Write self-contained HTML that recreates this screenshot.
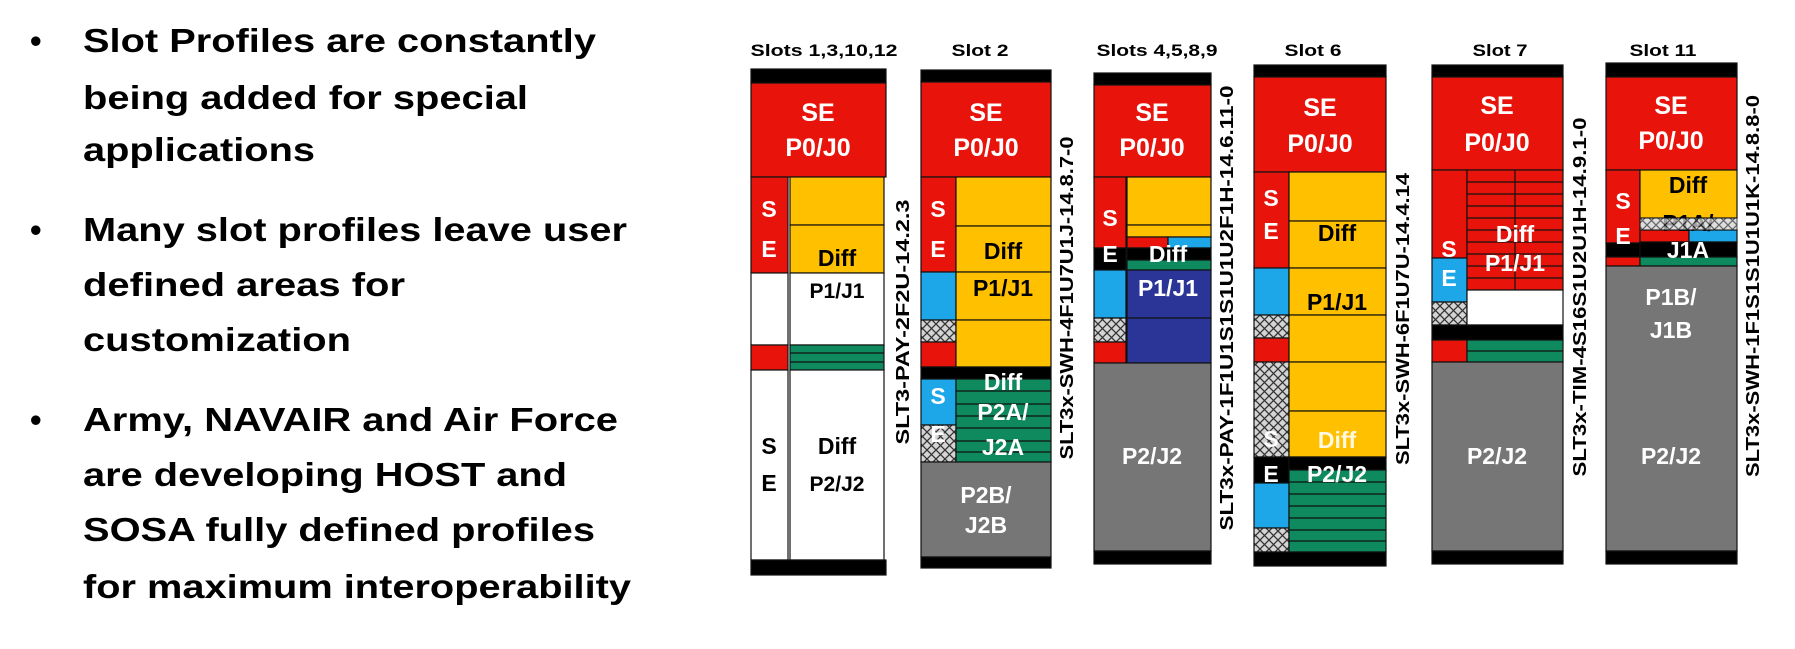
<!DOCTYPE html>
<html><head><meta charset="utf-8"><style>
html,body{margin:0;padding:0;background:#fff;}
svg{display:block;}
text{font-family:"Liberation Sans",Arial,sans-serif;font-weight:bold;}
</style></head><body>
<svg width="1795" height="649" viewBox="0 0 1795 649" xmlns="http://www.w3.org/2000/svg">
<defs>
<pattern id="h" width="9" height="9" patternUnits="userSpaceOnUse">
<rect width="9" height="9" fill="#d4d4d4"/>
<path d="M0 0L9 9M9 0L0 9" stroke="#333" stroke-width="1.3"/>
</pattern>
</defs>
<rect width="1795" height="649" fill="#fff"/>
<!-- left bullets -->
<g font-size="33" fill="#000">
<text x="30" y="52">•</text><text x="30" y="241">•</text><text x="30" y="431">•</text>
<text x="83" y="52" textLength="513" lengthAdjust="spacingAndGlyphs">Slot Profiles are constantly</text>
<text x="83" y="109" textLength="445" lengthAdjust="spacingAndGlyphs">being added for special</text>
<text x="83" y="161" textLength="232" lengthAdjust="spacingAndGlyphs">applications</text>
<text x="83" y="241" textLength="544" lengthAdjust="spacingAndGlyphs">Many slot profiles leave user</text>
<text x="83" y="296" textLength="322" lengthAdjust="spacingAndGlyphs">defined areas for</text>
<text x="83" y="351" textLength="268" lengthAdjust="spacingAndGlyphs">customization</text>
<text x="83" y="431" textLength="535" lengthAdjust="spacingAndGlyphs">Army, NAVAIR and Air Force</text>
<text x="83" y="486" textLength="484" lengthAdjust="spacingAndGlyphs">are developing HOST and</text>
<text x="83" y="541" textLength="512" lengthAdjust="spacingAndGlyphs">SOSA fully defined profiles</text>
<text x="83" y="598" textLength="548" lengthAdjust="spacingAndGlyphs">for maximum interoperability</text>
</g>
<!-- titles -->
<g font-size="17" fill="#000" text-anchor="middle">
<text x="824" y="56" textLength="147" lengthAdjust="spacingAndGlyphs">Slots 1,3,10,12</text>
<text x="980" y="56" textLength="57" lengthAdjust="spacingAndGlyphs">Slot 2</text>
<text x="1157" y="56" textLength="121" lengthAdjust="spacingAndGlyphs">Slots 4,5,8,9</text>
<text x="1313" y="56" textLength="57" lengthAdjust="spacingAndGlyphs">Slot 6</text>
<text x="1500" y="56" textLength="55" lengthAdjust="spacingAndGlyphs">Slot 7</text>
<text x="1663" y="56" textLength="67" lengthAdjust="spacingAndGlyphs">Slot 11</text>
</g>
<g stroke="#111" stroke-width="1.2">
<!-- COL1 -->
<rect x="751" y="69" width="135" height="14" fill="#000"/>
<rect x="751" y="83" width="135" height="94" fill="#e8140c"/>
<rect x="751" y="177" width="37" height="96" fill="#e8140c"/>
<rect x="751" y="273" width="37" height="72" fill="#fff"/>
<rect x="751" y="345" width="37" height="25" fill="#e8140c"/>
<rect x="751" y="370" width="37" height="190" fill="#fff"/>
<rect x="790" y="177" width="94" height="48" fill="#ffc000"/>
<rect x="790" y="225" width="94" height="48" fill="#ffc000"/>
<rect x="790" y="273" width="94" height="72" fill="#fff"/>
<rect x="790" y="345" width="94" height="25" fill="#0f8a5f"/>
<line x1="790" y1="353" x2="884" y2="353"/><line x1="790" y1="362" x2="884" y2="362"/>
<rect x="790" y="370" width="94" height="190" fill="#fff"/>
<rect x="751" y="560" width="135" height="15" fill="#000"/>
<!-- COL2 -->
<rect x="921" y="70" width="130" height="12" fill="#000"/>
<rect x="921" y="82" width="130" height="95" fill="#e8140c"/>
<rect x="921" y="177" width="35" height="95" fill="#e8140c"/>
<rect x="921" y="272" width="35" height="48" fill="#1ea7e8"/>
<rect x="921" y="320" width="35" height="22" fill="url(#h)"/>
<rect x="921" y="342" width="35" height="25" fill="#e8140c"/>
<rect x="956" y="177" width="95" height="49" fill="#ffc000"/>
<rect x="956" y="226" width="95" height="46" fill="#ffc000"/>
<rect x="956" y="272" width="95" height="48" fill="#ffc000"/>
<rect x="956" y="320" width="95" height="47" fill="#ffc000"/>
<rect x="921" y="367" width="130" height="12" fill="#000"/>
<rect x="921" y="379" width="35" height="46" fill="#1ea7e8"/>
<rect x="921" y="425" width="35" height="37" fill="url(#h)"/>
<rect x="956" y="379" width="95" height="83" fill="#0f8a5f"/>
<line x1="956" y1="391" x2="1051" y2="391"/><line x1="956" y1="404" x2="1051" y2="404"/><line x1="956" y1="416" x2="1051" y2="416"/><line x1="956" y1="428" x2="1051" y2="428"/><line x1="956" y1="441" x2="1051" y2="441"/><line x1="956" y1="452" x2="1051" y2="452"/>
<rect x="921" y="462" width="130" height="95" fill="#767676"/>
<rect x="921" y="557" width="130" height="11" fill="#000"/>
<!-- COL3 -->
<rect x="1094" y="73" width="117" height="12" fill="#000"/>
<rect x="1094" y="85" width="117" height="92" fill="#e8140c"/>
<rect x="1094" y="177" width="32" height="71" fill="#e8140c"/>
<rect x="1094" y="248" width="32" height="22" fill="#000"/>
<rect x="1094" y="270" width="32" height="48" fill="#1ea7e8"/>
<rect x="1094" y="318" width="32" height="24" fill="url(#h)"/>
<rect x="1094" y="342" width="32" height="21" fill="#e8140c"/>
<rect x="1127" y="177" width="84" height="48" fill="#ffc000"/>
<rect x="1127" y="225" width="84" height="12" fill="#ffc000"/>
<rect x="1127" y="237" width="41" height="11" fill="#e8140c"/>
<rect x="1168" y="237" width="43" height="11" fill="#1ea7e8"/>
<rect x="1127" y="248" width="84" height="12" fill="#000"/>
<rect x="1127" y="260" width="84" height="10" fill="#0f8a5f"/>
<rect x="1127" y="270" width="84" height="48" fill="#2a3597"/>
<rect x="1127" y="318" width="84" height="45" fill="#2a3597"/>
<rect x="1094" y="363" width="117" height="188" fill="#767676"/>
<rect x="1094" y="551" width="117" height="13" fill="#000"/>
<!-- COL4 -->
<rect x="1254" y="65" width="132" height="12" fill="#000"/>
<rect x="1254" y="77" width="132" height="95" fill="#e8140c"/>
<rect x="1254" y="172" width="35" height="96" fill="#e8140c"/>
<rect x="1254" y="268" width="35" height="47" fill="#1ea7e8"/>
<rect x="1254" y="315" width="35" height="23" fill="url(#h)"/>
<rect x="1254" y="338" width="35" height="24" fill="#e8140c"/>
<rect x="1254" y="362" width="35" height="95" fill="url(#h)"/>
<rect x="1254" y="457" width="35" height="26" fill="#000"/>
<rect x="1254" y="483" width="35" height="45" fill="#1ea7e8"/>
<rect x="1254" y="528" width="35" height="24" fill="url(#h)"/>
<rect x="1289" y="172" width="97" height="49" fill="#ffc000"/>
<rect x="1289" y="221" width="97" height="47" fill="#ffc000"/>
<rect x="1289" y="268" width="97" height="47" fill="#ffc000"/>
<rect x="1289" y="315" width="97" height="47" fill="#ffc000"/>
<rect x="1289" y="362" width="97" height="49" fill="#ffc000"/>
<rect x="1289" y="411" width="97" height="46" fill="#ffc000"/>
<rect x="1289" y="457" width="97" height="13" fill="#000"/>
<rect x="1289" y="470" width="97" height="82" fill="#0f8a5f"/>
<line x1="1289" y1="482" x2="1386" y2="482"/><line x1="1289" y1="494" x2="1386" y2="494"/><line x1="1289" y1="506" x2="1386" y2="506"/><line x1="1289" y1="518" x2="1386" y2="518"/><line x1="1289" y1="530" x2="1386" y2="530"/><line x1="1289" y1="541" x2="1386" y2="541"/>
<rect x="1254" y="552" width="132" height="14" fill="#000"/>
<!-- COL5 -->
<rect x="1432" y="65" width="131" height="12" fill="#000"/>
<rect x="1432" y="77" width="131" height="93" fill="#e8140c"/>
<rect x="1432" y="170" width="35" height="88" fill="#e8140c"/>
<rect x="1432" y="258" width="35" height="44" fill="#1ea7e8"/>
<rect x="1432" y="302" width="35" height="23" fill="url(#h)"/>
<rect x="1467" y="170" width="96" height="120" fill="#e8140c"/>
<line x1="1515" y1="170" x2="1515" y2="290"/>
<line x1="1467" y1="182" x2="1563" y2="182"/><line x1="1467" y1="194" x2="1563" y2="194"/><line x1="1467" y1="206" x2="1563" y2="206"/><line x1="1467" y1="218" x2="1563" y2="218"/><line x1="1467" y1="230" x2="1563" y2="230"/><line x1="1467" y1="242" x2="1563" y2="242"/><line x1="1467" y1="254" x2="1563" y2="254"/><line x1="1467" y1="266" x2="1563" y2="266"/><line x1="1467" y1="278" x2="1563" y2="278"/>
<rect x="1467" y="290" width="96" height="35" fill="#fff"/>
<rect x="1432" y="325" width="131" height="15" fill="#000"/>
<rect x="1432" y="340" width="35" height="22" fill="#e8140c"/>
<rect x="1467" y="340" width="96" height="22" fill="#0f8a5f"/>
<line x1="1467" y1="351" x2="1563" y2="351"/>
<rect x="1432" y="362" width="131" height="189" fill="#767676"/>
<rect x="1432" y="551" width="131" height="13" fill="#000"/>
<!-- COL6 -->
<rect x="1606" y="63" width="131" height="14" fill="#000"/>
<rect x="1606" y="77" width="131" height="93" fill="#e8140c"/>
<rect x="1606" y="170" width="34" height="73" fill="#e8140c"/>
<rect x="1606" y="243" width="34" height="14" fill="#000"/>
<rect x="1606" y="257" width="34" height="9" fill="#e8140c"/>
<rect x="1640" y="170" width="97" height="48" fill="#ffc000"/>
<rect x="1640" y="230" width="49" height="12" fill="#e8140c"/>
<rect x="1689" y="230" width="48" height="12" fill="#1ea7e8"/>
<rect x="1640" y="242" width="97" height="15" fill="#000"/>
<rect x="1640" y="257" width="97" height="9" fill="#0f8a5f"/>
<rect x="1606" y="266" width="131" height="285" fill="#767676"/>
<rect x="1606" y="551" width="131" height="13" fill="#000"/>
</g>
<!-- block labels -->
<g fill="#fff" font-size="25" text-anchor="middle">
<text x="818" y="121">SE</text><text x="818" y="156">P0/J0</text>
<text x="986" y="121">SE</text><text x="986" y="156">P0/J0</text>
<text x="1152" y="121">SE</text><text x="1152" y="156">P0/J0</text>
<text x="1320" y="116">SE</text><text x="1320" y="152">P0/J0</text>
<text x="1497" y="114">SE</text><text x="1497" y="151">P0/J0</text>
<text x="1671" y="114">SE</text><text x="1671" y="149">P0/J0</text>
</g>
<g fill="#fff" font-size="23" text-anchor="middle">
<text x="769" y="217">S</text><text x="769" y="257">E</text>
<text x="938" y="217">S</text><text x="938" y="257">E</text>
<text x="938" y="404">S</text><text x="938" y="442">E</text>
<text x="1003" y="390">Diff</text><text x="1003" y="420">P2A/</text><text x="1003" y="455">J2A</text>
<text x="986" y="503">P2B/</text><text x="986" y="533">J2B</text>
<text x="1110" y="226">S</text><text x="1110" y="262">E</text>
<text x="1168" y="262">Diff</text><text x="1168" y="296">P1/J1</text>
<text x="1152" y="464">P2/J2</text>
<text x="1271" y="206">S</text><text x="1271" y="239">E</text>
<text x="1271" y="447">S</text><text x="1271" y="482">E</text>
<text x="1337" y="448" fill="#fff8e0">Diff</text><text x="1337" y="482">P2/J2</text>
<text x="1449" y="257">S</text><text x="1449" y="286">E</text>
<text x="1515" y="242">Diff</text><text x="1515" y="271">P1/J1</text>
<text x="1497" y="464">P2/J2</text>
<text x="1623" y="209">S</text><text x="1623" y="244">E</text>
<text x="1688" y="258">J1A</text>
<text x="1671" y="305">P1B/</text><text x="1671" y="338">J1B</text>
<text x="1671" y="464">P2/J2</text>
</g>
<g fill="#000" font-size="23" text-anchor="middle">
<text x="837" y="266">Diff</text><text x="837" y="298" font-size="21">P1/J1</text>
<text x="769" y="454">S</text><text x="769" y="491">E</text>
<text x="837" y="454">Diff</text><text x="837" y="491" font-size="21">P2/J2</text>
<text x="1003" y="259">Diff</text><text x="1003" y="296">P1/J1</text>
<text x="1337" y="241">Diff</text><text x="1337" y="310">P1/J1</text>
<text x="1688" y="193">Diff</text><text x="1688" y="231">P1A/</text>
</g>
<rect x="1640" y="218" width="97" height="12" fill="url(#h)" opacity="0.75" stroke="#111" stroke-width="1"/>
<!-- vertical labels -->
<g fill="#000" font-size="18" text-anchor="middle">
<text transform="translate(909,322) rotate(-90)" textLength="245" lengthAdjust="spacingAndGlyphs">SLT3-PAY-2F2U-14.2.3</text>
<text transform="translate(1073,298) rotate(-90)" textLength="323" lengthAdjust="spacingAndGlyphs">SLT3x-SWH-4F1U7U1J-14.8.7-0</text>
<text transform="translate(1233,308) rotate(-90)" textLength="445" lengthAdjust="spacingAndGlyphs">SLT3x-PAY-1F1U1S1S1U1U2F1H-14.6.11-0</text>
<text transform="translate(1409,319) rotate(-90)" textLength="292" lengthAdjust="spacingAndGlyphs">SLT3x-SWH-6F1U7U-14.4.14</text>
<text transform="translate(1586,297) rotate(-90)" textLength="359" lengthAdjust="spacingAndGlyphs">SLT3x-TIM-4S16S1U2U1H-14.9.1-0</text>
<text transform="translate(1759,286) rotate(-90)" textLength="382" lengthAdjust="spacingAndGlyphs">SLT3x-SWH-1F1S1S1U1U1K-14.8.8-0</text>
</g>
</svg>
</body></html>
